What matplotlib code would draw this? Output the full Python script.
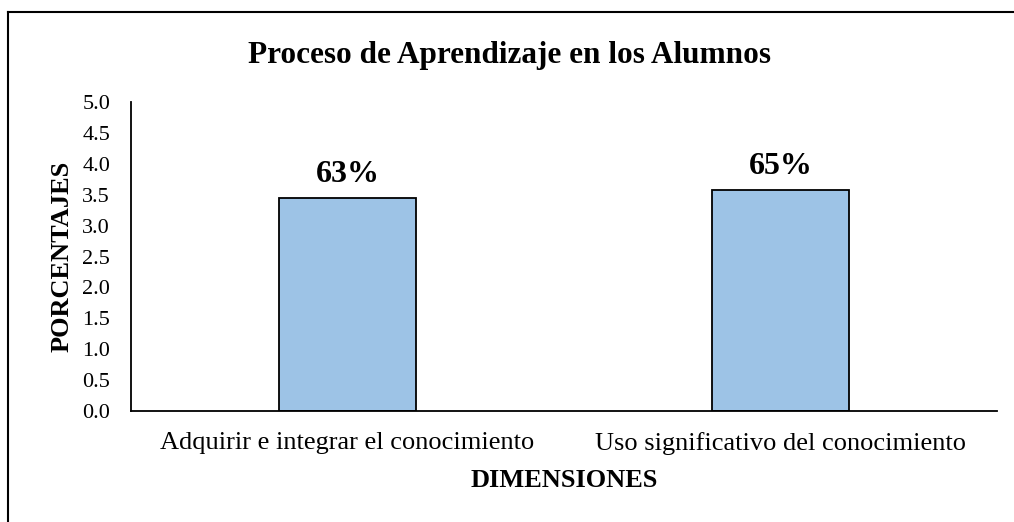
import matplotlib
matplotlib.use('Agg')
import matplotlib.pyplot as plt
from matplotlib.lines import Line2D

plt.rcParams['font.family'] = ['Liberation Serif', 'DejaVu Serif']

# data
dimensiones = ['Adquirir e integrar el conocimiento', 'Uso significativo del conocimiento']
valores = [3.45, 3.57]
etiquetas = ['63%', '65%']
yticks = [0.0, 0.5, 1.0, 1.5, 2.0, 2.5, 3.0, 3.5, 4.0, 4.5, 5.0]

fig = plt.figure(figsize=(10.14, 5.22), dpi=100)
ax = fig.add_axes([0.1292, 0.2126, 0.8540, 0.5920])

x = range(len(dimensiones))
bars = ax.bar(x, valores, width=0.315, color='#9DC3E6', edgecolor='black', linewidth=1.3)

for bar, lab in zip(bars, etiquetas):
    ax.text(bar.get_x() + bar.get_width() / 2, bar.get_height() + 0.15, lab,
            ha='center', va='bottom', fontsize=23, fontweight='bold')

ax.set_xlim(-0.5, 1.5)
ax.set_ylim(0, 5.0)
ax.set_yticks(yticks)
ax.set_yticklabels([f'{v:.1f}' for v in yticks], fontsize=16)
ax.set_xticks(list(x))
ax.set_xticklabels(dimensiones, fontsize=19)
ax.tick_params(axis='y', length=0, pad=15)
ax.tick_params(axis='x', length=0, pad=15)

for s in ['top', 'right']:
    ax.spines[s].set_visible(False)
ax.spines['left'].set_linewidth(1.3)
ax.spines['bottom'].set_linewidth(1.3)

ax.set_ylabel('PORCENTAJES', fontsize=19, fontweight='bold', labelpad=6)
ax.set_xlabel('DIMENSIONES', fontsize=19, fontweight='bold', labelpad=10.5)
fig.text(510 / 1014, 1 - 56 / 522, 'Proceso de Aprendizaje en los Alumnos',
         ha='center', va='center', fontsize=22.5, fontweight='bold')

# chart frame (top and left edges visible in the reference)
fig.add_artist(Line2D([8 / 1014, 8 / 1014], [0, 1 - 12 / 522], color='black', linewidth=1.5))
fig.add_artist(Line2D([8 / 1014, 1], [1 - 12 / 522, 1 - 12 / 522], color='black', linewidth=1.5))

fig.savefig('out.png', dpi=100)
